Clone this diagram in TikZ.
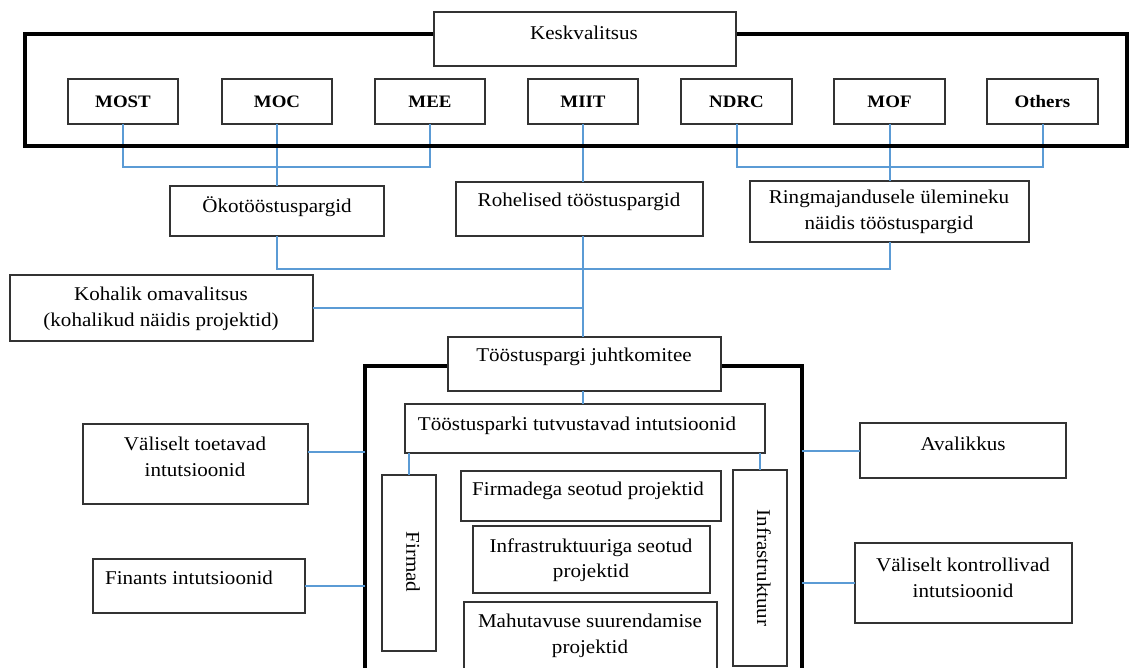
\documentclass[tikz,border=0pt]{standalone}
\usepackage{fontspec}
\setmainfont{Liberation Serif}[FakeStretch=1.08]
\definecolor{linkblue}{HTML}{5B9BD5}
% box given by its top-left and bottom-right corners (in px)
\newcommand\orgbox[5]{\node[box,anchor=north west,minimum width={#4-#2},minimum height={#5-#3}] (#1) at (#2,#3) {};}
\begin{document}
\begin{tikzpicture}[x=1pt,y=-1pt,
  box/.style={draw=black!80,line width=1.2pt,fill=white,inner sep=0pt,outer sep=0pt},
  frame/.style={draw=black,line width=3.5pt},
  link/.style={draw=linkblue,line width=2pt},
  lbl/.style={font=\fontsize{19.5}{25.5}\selectfont,align=center,inner sep=0pt},
  mlbl/.style={font=\bfseries\fontsize{17.5}{21}\selectfont,inner sep=0pt}]
\useasboundingbox (0,0) rectangle (1131,668);
\fill[white] (0,0) rectangle (1131,668);

% ministries
\orgbox{most}{68}{79}{178}{124}
\orgbox{moc}{222}{79}{332}{124}
\orgbox{mee}{375}{79}{485}{124}
\orgbox{miit}{528}{79}{638}{124}
\orgbox{ndrc}{681}{79}{792}{124}
\orgbox{mof}{834}{79}{945}{124}
\orgbox{oth}{987}{79}{1098}{124}
\node[mlbl] at (most) {MOST};
\node[mlbl] at (moc) {MOC};
\node[mlbl] at (mee) {MEE};
\node[mlbl] at (miit) {MIIT};
\node[mlbl] at (ndrc) {NDRC};
\node[mlbl] at (mof) {MOF};
\node[mlbl] at (oth) {Others};

% park types
\orgbox{oko}{170}{186}{384}{236}
\orgbox{roh}{456}{182}{703}{236}
\orgbox{ring}{750}{181}{1029}{242}
\node[lbl] at (277,207) {Ökotööstuspargid};
\node[lbl] at (579,202) {Rohelised tööstuspargid};
\node[lbl] at (889,212) {Ringmajandusele ülemineku\\näidis tööstuspargid};

% local government
\orgbox{koh}{10}{275}{313}{341}
\node[lbl] at (161,309) {Kohalik omavalitsus\\(kohalikud näidis projektid)};

% connectors of the upper part
\coordinate (busA) at (0,167);
\coordinate (busB) at (0,269);
\draw[link] (most.south) |- (busA -| mee.south) -- (mee.south);
\draw[link] (moc.south) -- (moc.south |- oko.north);
\draw[link] (ndrc.south) |- (busA -| oth.south) -- (oth.south);
\draw[link] (mof.south) -- (mof.south |- ring.north);
\draw[link] (miit.south) -- (miit.south |- roh.north);
\draw[link] (oko.south) |- (busB -| ring.south) -- (ring.south);

% central government frame
\draw[frame] (25,34) rectangle (1127,146);
\orgbox{kesk}{434}{12}{736}{66}
\node[lbl] at (584,33) {Keskvalitsus};

% park frame
\coordinate (frL) at (365,366);
\coordinate (frR) at (802,366);
\draw[frame] (frL |- 0,675) -- (frL) -- (frR) -- (frR |- 0,675);

\orgbox{juht}{448}{337}{721}{391}
\node[lbl] at (584,357) {Tööstuspargi juhtkomitee};
\orgbox{tut}{405}{404}{765}{453}
\node[lbl] at (577,426) {Tööstusparki tutvustavad intutsioonid};

\orgbox{firm}{382}{475}{436}{651}
\node[lbl,rotate=-90] at (413,562) {Firmad};
\orgbox{infra}{733}{470}{787}{666}
\node[lbl,rotate=-90] at (764,568) {Infrastruktuur};

\orgbox{fproj}{461}{471}{721}{521}
\node[lbl] at (588,491) {Firmadega seotud projektid};
\orgbox{iproj}{473}{526}{710}{593}
\node[lbl] at (591,560) {Infrastruktuuriga seotud\\projektid};
\orgbox{mproj}{464}{602}{717}{680}
\node[lbl] at (590,636) {Mahutavuse suurendamise\\projektid};

% outside parties
\orgbox{vt}{83}{424}{308}{504}
\node[lbl] at (195,457) {Väliselt toetavad\\intutsioonid};
\orgbox{fin}{93}{559}{305}{613}
\node[lbl] at (189,578) {Finants intutsioonid};
\orgbox{aval}{860}{423}{1066}{478}
\node[lbl] at (963,444) {Avalikkus};
\orgbox{vk}{855}{543}{1072}{623}
\node[lbl] at (963,578) {Väliselt kontrollivad\\intutsioonid};

% connectors of the lower part
\draw[link] (miit.south |- roh.south) -- (miit.south |- juht.north);
\draw[link] (koh.east) -- (koh.east -| miit.south);
\draw[link] (miit.south |- juht.south) -- (miit.south |- tut.north);
\draw[link] (firm.north |- tut.south) -- (firm.north);
\draw[link] (infra.north |- tut.south) -- (infra.north);
\draw[link] (vt.east |- 0,452) -- (frL |- 0,452);
\draw[link] (fin.east) -- (fin.east -| frL);
\draw[link] (aval.west) -- (aval.west -| frR);
\draw[link] (vk.west) -- (vk.west -| frR);
\end{tikzpicture}
\end{document}
